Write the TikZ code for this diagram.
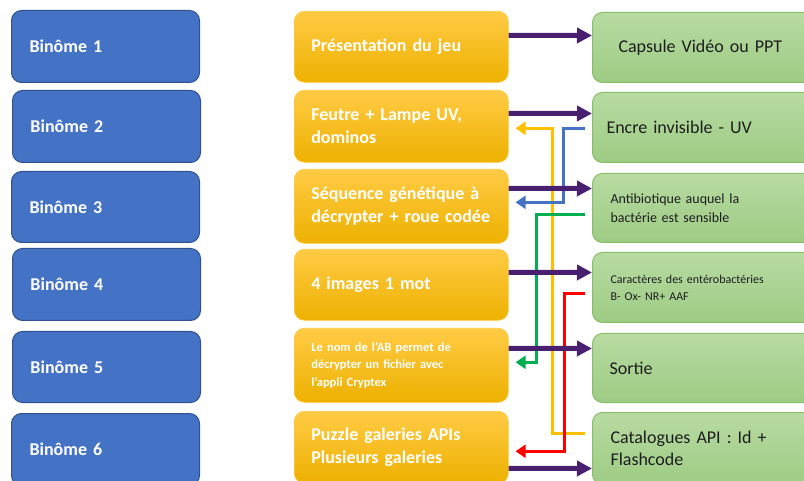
\documentclass[tikz,border=0pt]{standalone}
\usepackage{fontspec}
\setmainfont{Carlito}
\usetikzlibrary{arrows.meta}
\definecolor{blueF}{HTML}{4472C4}
\definecolor{blueD}{HTML}{2F528F}
\definecolor{oTop}{HTML}{FFCB45}
\definecolor{oMid}{HTML}{FFC20A}
\definecolor{oBot}{HTML}{EDB100}
\definecolor{oLine}{HTML}{FFC93E}
\definecolor{gTop}{HTML}{B8DBA2}
\definecolor{gBot}{HTML}{9DCB84}
\definecolor{gLine}{HTML}{88BE68}
\definecolor{gText}{HTML}{1E1E1E}
\definecolor{purp}{HTML}{48206F}
\definecolor{ylw}{HTML}{FFC000}
\definecolor{blu}{HTML}{4472C4}
\definecolor{grn}{HTML}{00B050}
\definecolor{rd}{HTML}{FF0000}
\begin{document}
\begin{tikzpicture}[x=1pt,y=-1pt,
  basebox/.style={rounded corners=10pt, anchor=north west, align=left, inner ysep=2pt},
  bluebox/.style={basebox, fill=blueF, draw=blueD, line width=1pt, text=white,
    font=\bfseries\fontsize{18}{22}\selectfont, text width=152pt, inner xsep=18pt},
  orabox/.style={basebox, top color=oTop, middle color=oMid, bottom color=oBot, draw=oLine, line width=0.6pt,
    text=white, font=\bfseries\fontsize{18}{23}\selectfont, text width=180pt, inner xsep=17pt},
  grnbox/.style={basebox, top color=gTop, bottom color=gBot, draw=gLine, line width=1pt,
    text=gText, font=\fontsize{18}{22}\selectfont, text width=214pt, inner xsep=16pt},
  parr/.style={draw=purp, line width=5pt, -{Triangle[length=15pt,width=15pt]}},
  rarr/.style={line width=3pt, -{Triangle[length=10pt,width=13pt]}}
]
\clip (0,0) rectangle (804,481);
\useasboundingbox (0,0) rectangle (804,481);

% blue column
\node[bluebox, minimum height=72pt] (b1) at (11,10) {Binôme 1};
\node[bluebox, minimum height=72pt] (b2) at (12,90) {Binôme 2};
\node[bluebox, minimum height=71pt] (b3) at (11,171) {Binôme 3};
\node[bluebox, minimum height=72pt] (b4) at (12,248) {Binôme 4};
\node[bluebox, minimum height=71pt] (b5) at (12,331) {Binôme 5};
\node[bluebox, minimum height=72pt] (b6) at (11,413) {Binôme 6};

% orange column
\node[orabox, minimum height=71pt] (o1) at (294,11) {Présentation du jeu};
\node[orabox, minimum height=72pt] (o2) at (294,90) {Feutre + Lampe UV,\\dominos};
\node[orabox, minimum height=74pt] (o3) at (294,169) {Séquence génétique à\\décrypter + roue codée};
\node[orabox, minimum height=71pt] (o4) at (294,249) {4 images 1 mot};
\node[orabox, minimum height=74pt, font=\bfseries\fontsize{12.5}{17.5}\selectfont] (o5) at (294,328)
  {Le nom de l’AB permet de\\décrypter un fichier avec\\l’appli Cryptex};
\node[orabox, minimum height=72pt] (o6) at (294,411) {Puzzle galeries APIs\\Plusieurs galeries};

% green column
\node[grnbox, minimum height=70pt] (g1) at (592,12) {\hspace*{10pt}Capsule Vidéo ou PPT};
\node[grnbox, minimum height=70pt, inner xsep=14pt] (g2) at (592,92) {Encre invisible - UV};
\node[grnbox, minimum height=69pt, font=\fontsize{14}{19.5}\selectfont, inner xsep=18pt] (g3) at (592,173)
  {Antibiotique auquel la\\bactérie est sensible};
\node[grnbox, minimum height=70pt, font=\fontsize{12}{17}\selectfont, inner xsep=18pt] (g4) at (592,252)
  {Caractères des entérobactéries\\B- Ox- NR+ AAF};
\node[grnbox, minimum height=69pt, inner xsep=17pt] (g5) at (592,333) {Sortie};
\node[grnbox, minimum height=72pt, inner xsep=18pt] (g6) at (592,412) {Catalogues API : Id +\\Flashcode};

% return arrows
\draw[rarr, draw=ylw] ([xshift=-7pt,yshift=15pt]g6.west) -| ([xshift=44pt,yshift=-2pt]o2.east)
  -- ([xshift=7pt,yshift=-2pt]o2.east);
\draw[rarr, draw=blu] ([xshift=-7pt,yshift=-1pt]g2.west) -| ([xshift=55pt,yshift=4pt]o3.east)
  -- ([xshift=7pt,yshift=4pt]o3.east);
\draw[rarr, draw=grn] ([xshift=-7pt,yshift=-6.5pt]g3.west) -| ([xshift=28pt,yshift=3pt]o5.east)
  -- ([xshift=7pt,yshift=3pt]o5.east);
\draw[rarr, draw=rd] ([xshift=-7pt,yshift=-6pt]g4.west) -| ([xshift=56pt,yshift=-4pt]o6.east)
  -- ([xshift=7pt,yshift=-4pt]o6.east);

% forward arrows
\draw[parr] ([yshift=11.5pt]o1.east) -- ([yshift=12pt]g1.west);
\draw[parr] ([yshift=13pt]o2.east) -- ([yshift=14pt]g2.west);
\draw[parr] ([yshift=18pt]o3.east) -- ([yshift=19.5pt]g3.west);
\draw[parr] ([yshift=12.5pt]o4.east) -- ([yshift=15pt]g4.west);
\draw[parr] ([yshift=17pt]o5.east) -- ([yshift=19.5pt]g5.west);
\draw[parr] ([yshift=-21pt]o6.east) -- ([yshift=-20pt]g6.west);
\end{tikzpicture}
\end{document}
